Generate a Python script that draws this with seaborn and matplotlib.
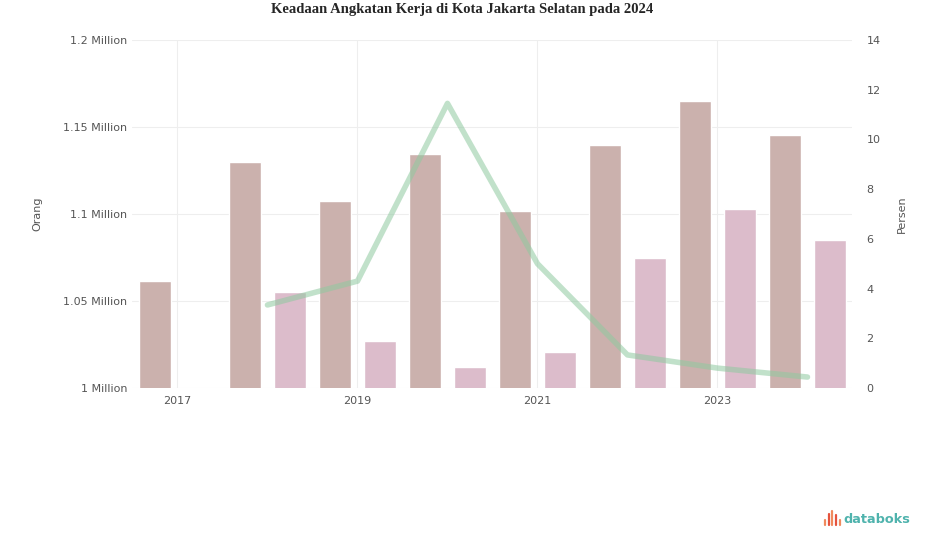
import numpy as np
import pandas as pd
import matplotlib
matplotlib.use("Agg")
import matplotlib.pyplot as plt
import seaborn as sns

# === Data ===
tahun = ["2017", "2018", "2019", "2020", "2021", "2022", "2023", "2024"]
angkatan_kerja = [1061700, 1129700, 1107200, 1134300, 1102000, 1139500, 1164800, 1145200]
bukan_angkatan_kerja = [np.nan, 1055300, 1027100, 1012100, 1020700, 1074900, 1102600, 1085300]
persen = [np.nan, 3.34, 4.3, 11.45, 5.0, 1.33, 0.8, 0.44]

left_ticks = [1000000, 1050000, 1100000, 1150000, 1200000]
left_labels = ["1 Million", "1.05 Million", "1.1 Million", "1.15 Million", "1.2 Million"]
right_ticks = [0, 2, 4, 6, 8, 10, 12, 14]
x_tick_idx = [0, 2, 4, 6]

WARNA_AK = "#cbb1ad"
WARNA_BAK = "#dcbccb"
WARNA_LINE = "#8fc9a0"

df = pd.DataFrame({
    "tahun": tahun * 2,
    "nilai": angkatan_kerja + bukan_angkatan_kerja,
    "seri": ["Angkatan Kerja"] * len(tahun) + ["Bukan Angkatan Kerja"] * len(tahun),
})

sns.set_style("white")
plt.rcParams["font.family"] = ["DejaVu Sans"]

fig = plt.figure(figsize=(9.25, 5.47), dpi=100)
ax = fig.add_axes([0.1432, 0.2907, 0.9216 - 0.1432, 0.9269 - 0.2907])

sns.barplot(
    data=df, x="tahun", y="nilai", hue="seri", order=tahun,
    palette={"Angkatan Kerja": WARNA_AK, "Bukan Angkatan Kerja": WARNA_BAK},
    width=1.0, gap=0.29, legend=False, ax=ax, saturation=1,
)
ax.set_ylim(1000000, 1200000)
ax.set_xlim(-0.5, 7.5)
ax.set_yticks(left_ticks)
ax.set_yticklabels(left_labels)
ax.set_xticks(x_tick_idx)
ax.set_xticklabels([tahun[i] for i in x_tick_idx])
ax.set_xlabel("")
ax.set_ylabel("Orang", fontsize=8, color="#555555", labelpad=15)
ax.tick_params(axis="both", length=0, labelsize=8, colors="#555555")
ax.tick_params(axis="x", pad=6)
ax.grid(True, color="#eeeeee", linewidth=0.8)
ax.set_axisbelow(True)
for s in ax.spines.values():
    s.set_visible(False)

# Garis persen pada sumbu kanan
ax2 = ax.twinx()
sns.lineplot(x=np.arange(len(tahun)), y=persen, color=WARNA_LINE, linewidth=4,
             alpha=0.55, ax=ax2)
ax2.set_ylim(0, 14)
ax2.set_yticks(right_ticks)
ax2.set_ylabel("Persen", fontsize=8, color="#555555", labelpad=12)
ax2.tick_params(axis="y", length=0, labelsize=8, colors="#555555", pad=10)
ax2.grid(False)
for s in ax2.spines.values():
    s.set_visible(False)

fig.text(0.5, 0.982, "Keadaan Angkatan Kerja di Kota Jakarta Selatan pada 2024",
         ha="center", va="center", fontsize=10.5, fontweight="bold",
         family="Liberation Serif")

# Logo databoks
fig.text(0.912, 0.051, "databoks", ha="left", va="center", fontsize=9.3,
         color="#4fb3ad", fontweight="bold")
icon = [(0.000, 0.010, "#f08a5d"), (0.0042, 0.020, "#e5533d"),
        (0.0084, 0.026, "#f08a5d"), (0.0126, 0.018, "#e5533d"),
        (0.0168, 0.010, "#f08a5d")]
for dx, h, c in icon:
    fig.add_artist(plt.Line2D([0.8915 + dx, 0.8915 + dx], [0.040, 0.040 + h],
                              transform=fig.transFigure, color=c,
                              linewidth=1.6, solid_capstyle="round"))

fig.savefig("out.png", dpi=100)
